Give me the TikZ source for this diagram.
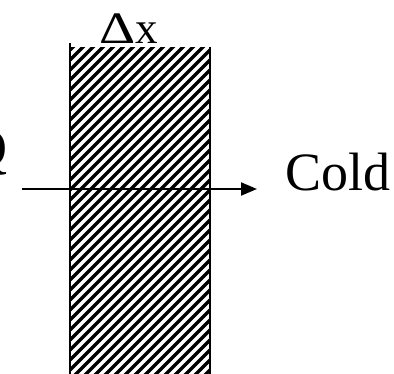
\documentclass[tikz,border=0pt]{standalone}
\usepackage{fontspec}
\usepackage{graphicx}
\setmainfont{Liberation Serif}
\usetikzlibrary{arrows.meta}
\begin{document}
\begin{tikzpicture}[x=1pt,y=-1pt,
  wall/.style={line width=2pt},
  hatch/.style={line width=3.3pt},
  lbl/.style={inner sep=0pt,anchor=base west}]
\useasboundingbox (0,0) rectangle (394,373);
% hatching
\begin{scope}
\clip (70,47) rectangle (210,380);
\foreach \i in {0,...,50}{
  \draw[hatch] (\i*10+70-340,380) -- ++(340,-340);
}
\end{scope}
% walls
\draw[wall] (70,43) -- (70,380);
\draw[wall] (210,47) -- (210,380);
% arrow
\coordinate (a) at (22,189);
\coordinate (b) at (257,189);
\draw[line width=2pt,-{Triangle[length=16pt,width=13pt]}] (a) -- (b);
% labels
\node[lbl,font=\fontsize{54}{60}\selectfont] (cold) at (285,190) {Cold};
\node[lbl,font=\fontsize{45}{50}\selectfont] (dx) at (99,43) {\scalebox{1.25}[1]{Δ}x};
\node[lbl,font=\fontsize{54}{60}\selectfont,anchor=base east] (q) at (8,166) {Q};
\end{tikzpicture}
\end{document}
